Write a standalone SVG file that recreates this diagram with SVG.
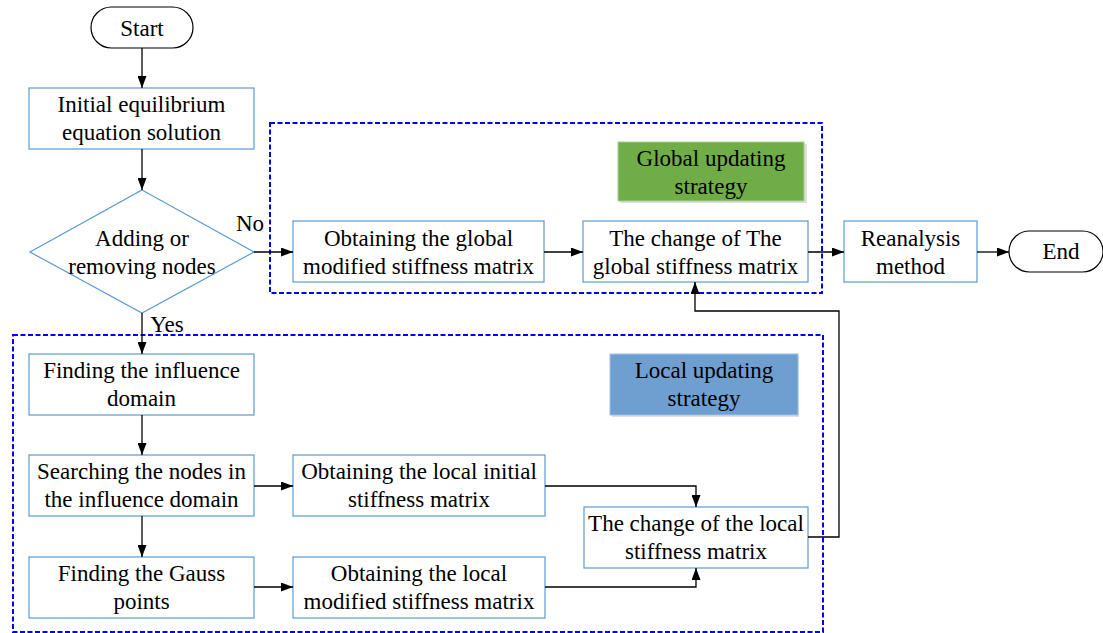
<svg xmlns="http://www.w3.org/2000/svg" width="1103" height="633" viewBox="0 0 1103 633">
<style>
text{font-family:"Liberation Serif","Times New Roman",serif;font-size:23px;fill:#000;text-anchor:middle}
.box{fill:#fff;stroke:#5B9BD5;stroke-width:1.2}
.term{fill:#fff;stroke:#000;stroke-width:1.2}
.grp{fill:none;stroke:#0000FF;stroke-width:2;stroke-dasharray:5 2.5}
.con{fill:none;stroke:#000;stroke-width:1.3}
.shadow{fill:#000;opacity:0.12}
</style>
<defs>
<marker id="arr" viewBox="0 0 12 9" refX="12" refY="4.5" markerWidth="12" markerHeight="9" markerUnits="userSpaceOnUse" orient="auto">
<path d="M0,0 L12,4.5 L0,9 Z" fill="#000"/>
</marker>
</defs>
<rect width="1103" height="633" fill="#fff"/>
<g id="global-group">
<rect class="grp" x="270" y="123" width="552" height="170"/>
</g>
<g id="local-group">
<rect class="grp" x="13" y="335" width="810" height="297"/>
</g>
<g id="start">
<rect class="term" x="91" y="7" width="102" height="41" rx="20.5"/>
<text x="142" y="36">Start</text>
</g>
<g id="init">
<rect class="box" x="29" y="88" width="225" height="61"/>
<text x="141.5" y="112">Initial equilibrium</text>
<text x="141.5" y="140">equation solution</text>
</g>
<g id="decision">
<polygon class="box" points="142,190 254,252 142,313 30,252"/>
<text x="142" y="246">Adding or</text>
<text x="142" y="274">removing nodes</text>
</g>
<g id="global-modified">
<rect class="box" x="293" y="221" width="251" height="61"/>
<text x="418.5" y="246">Obtaining the global</text>
<text x="418.5" y="274">modified stiffness matrix</text>
</g>
<g id="global-change">
<rect class="box" x="583" y="221" width="225" height="61"/>
<text x="695.5" y="246">The change of The</text>
<text x="695.5" y="274">global stiffness matrix</text>
</g>
<g id="global-label">
<rect class="shadow" x="620" y="144" width="187" height="59"/>
<rect x="618" y="142" width="186" height="59" fill="#70AD47" stroke="#A9D18E" stroke-width="1"/>
<text x="711" y="166">Global updating</text>
<text x="711" y="194">strategy</text>
</g>
<g id="reanalysis">
<rect class="box" x="844" y="221" width="133" height="61"/>
<text x="910.5" y="246">Reanalysis</text>
<text x="910.5" y="274">method</text>
</g>
<g id="end">
<rect class="term" x="1009" y="231" width="94" height="41" rx="20.5"/>
<text x="1061" y="259">End</text>
</g>
<g id="local-label">
<rect class="shadow" x="612" y="356" width="187" height="61"/>
<rect x="610" y="354" width="188" height="61" fill="#6F9ED0" stroke="#9DC3E6" stroke-width="1"/>
<text x="704" y="378">Local updating</text>
<text x="704" y="406">strategy</text>
</g>
<g id="influence">
<rect class="box" x="29" y="354" width="225" height="61"/>
<text x="141.5" y="378">Finding the influence</text>
<text x="141.5" y="406">domain</text>
</g>
<g id="searching">
<rect class="box" x="29" y="455" width="225" height="61"/>
<text x="141.5" y="479">Searching the nodes in</text>
<text x="141.5" y="507">the influence domain</text>
</g>
<g id="gauss">
<rect class="box" x="29" y="557" width="225" height="61"/>
<text x="141.5" y="581">Finding the Gauss</text>
<text x="141.5" y="609">points</text>
</g>
<g id="local-initial">
<rect class="box" x="293" y="455" width="252" height="61"/>
<text x="419" y="479">Obtaining the local initial</text>
<text x="419" y="507">stiffness matrix</text>
</g>
<g id="local-modified">
<rect class="box" x="293" y="557" width="252" height="61"/>
<text x="419" y="581">Obtaining the local</text>
<text x="419" y="609">modified stiffness matrix</text>
</g>
<g id="local-change">
<rect class="box" x="584" y="507" width="224" height="61"/>
<text x="696" y="531">The change of the local</text>
<text x="696" y="559">stiffness matrix</text>
</g>
<g id="connectors">
<path class="con" d="M142,48 V88" marker-end="url(#arr)"/>
<path class="con" d="M142,149 V190" marker-end="url(#arr)"/>
<path class="con" d="M254,252 H293" marker-end="url(#arr)"/>
<path class="con" d="M544,252 H583" marker-end="url(#arr)"/>
<path class="con" d="M808,252 H844" marker-end="url(#arr)"/>
<path class="con" d="M977,252 H1009" marker-end="url(#arr)"/>
<path class="con" d="M142,313 V354" marker-end="url(#arr)"/>
<path class="con" d="M142,415 V455" marker-end="url(#arr)"/>
<path class="con" d="M142,516 V557" marker-end="url(#arr)"/>
<path class="con" d="M254,486 H293" marker-end="url(#arr)"/>
<path class="con" d="M254,587 H293" marker-end="url(#arr)"/>
<path class="con" d="M545,486 H696 V507" marker-end="url(#arr)"/>
<path class="con" d="M545,587 H696 V568" marker-end="url(#arr)"/>
<path class="con" d="M808,537 H839 V311 H695 V282" marker-end="url(#arr)"/>
<text x="250" y="231">No</text>
<text x="167" y="332">Yes</text>
</g>
</svg>
